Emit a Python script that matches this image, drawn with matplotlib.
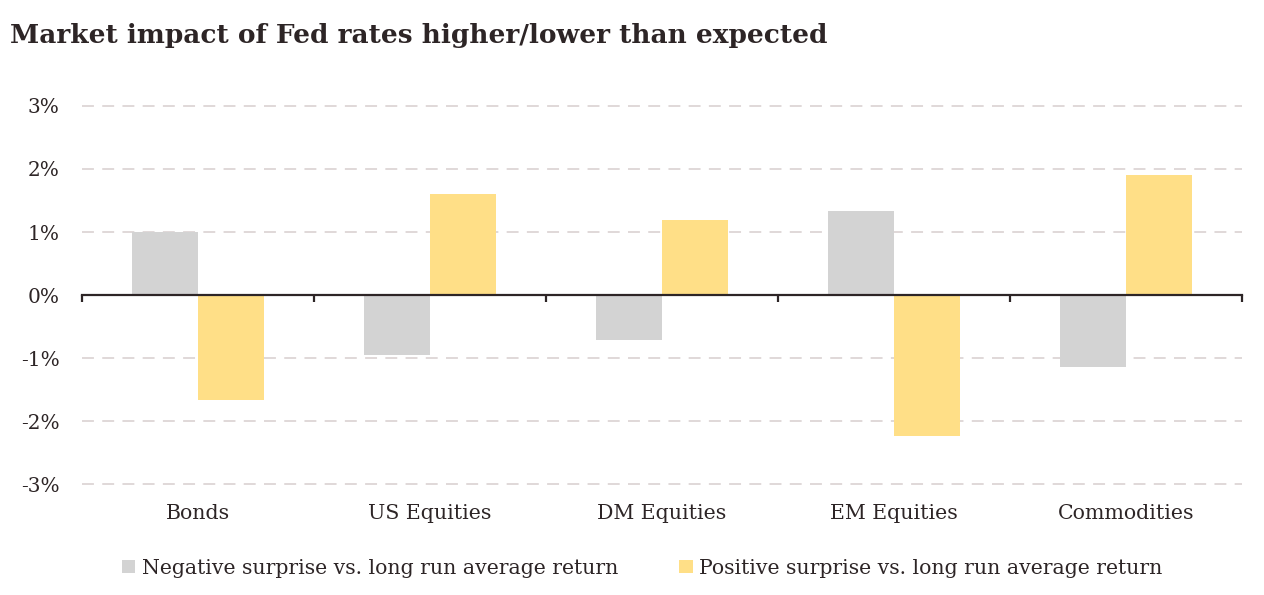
import matplotlib
matplotlib.use("Agg")
import matplotlib.pyplot as plt
import numpy as np

categories = ["Bonds", "US Equities", "DM Equities", "EM Equities", "Commodities"]
negative = [1.00, -0.95, -0.71, 1.33, -1.14]
positive = [-1.67, 1.60, 1.19, -2.24, 1.90]
series_names = ["Negative surprise vs. long run average return",
                "Positive surprise vs. long run average return"]
yticks = [-3, -2, -1, 0, 1, 2, 3]
ytick_labels = ["-3%", "-2%", "-1%", "0%", "1%", "2%", "3%"]

txt = "#2d2526"
plt.rcParams['font.family'] = ['DejaVu Serif']

fig = plt.figure(figsize=(12.64, 5.95), dpi=100)
ax = fig.add_axes([82/1264, 1-497/595, 1160/1264, 410/595])

x = np.arange(len(categories))
w = 0.285
ax.bar(x - w/2, negative, w, color="#d3d3d3", label=series_names[0], zorder=2)
ax.bar(x + w/2, positive, w, color="#ffdf87", label=series_names[1], zorder=2)

ax.set_xlim(-0.5, len(categories) - 0.5)
ax.set_ylim(-3.2, 3.3)
ax.set_yticks(yticks)
ax.set_yticklabels(ytick_labels, fontsize=14.5, color=txt)
ax.tick_params(axis='y', length=0, pad=16)
for yv in yticks:
    if yv != 0:
        ax.axhline(yv, color="#ddd6d6", lw=1.3, dashes=(6.6, 4.6), zorder=1)

for s in ["left", "right", "top"]:
    ax.spines[s].set_visible(False)
ax.spines["bottom"].set_position(("data", 0))
ax.spines["bottom"].set_color(txt)
ax.spines["bottom"].set_linewidth(1.6)
ax.spines["bottom"].set_zorder(3)
ax.set_xticks(np.arange(-0.5, len(categories), 1.0))
ax.set_xticklabels([])
ax.tick_params(axis='x', length=5, width=1.6, color=txt, direction='out')

for xi, c in zip(x, categories):
    ax.text(xi, -3.46, c, ha='center', va='center', fontsize=14.8, color=txt)

fig.text(10/1264, 1-35/595, "Market impact of Fed rates higher/lower than expected",
         fontsize=19, fontweight='bold', color=txt, ha='left', va='center')

fig.legend(loc='center', bbox_to_anchor=(0.508, 1-568/595), ncol=2, frameon=False,
           fontsize=14.7, handlelength=0.65, handleheight=0.65, handletextpad=0.3,
           columnspacing=3.0, labelcolor=txt)

fig.savefig("out.png", dpi=100, facecolor="white")
